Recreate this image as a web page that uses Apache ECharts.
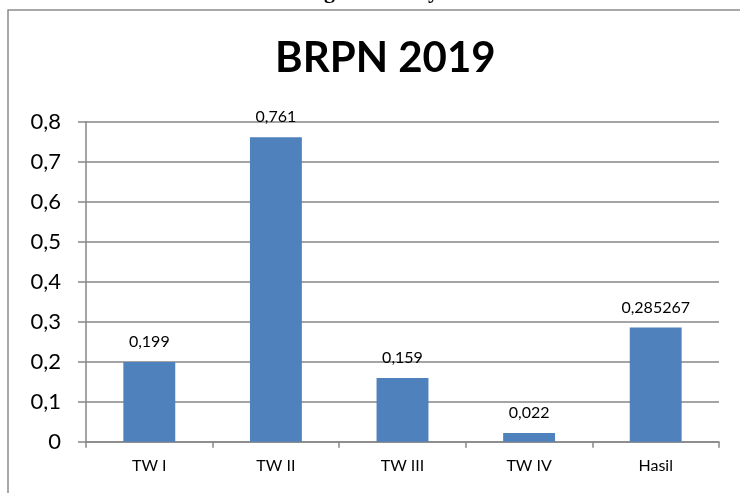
<!DOCTYPE html>
<html>
<head>
<meta charset="utf-8">
<script src="https://cdn.jsdelivr.net/npm/echarts@6/dist/echarts.min.js"></script>
<style>
  html, body { margin: 0; padding: 0; background: #fff; }
  #main { width: 740px; height: 493px; }
</style>
</head>
<body>
<div id="main"></div>
<script>
var categories = ['TW I', 'TW II', 'TW III', 'TW IV', 'Hasil'];
var values = [0.199, 0.761, 0.159, 0.022, 0.285267];
var yTicks = [0, 0.1, 0.2, 0.3, 0.4, 0.5, 0.6, 0.7, 0.8];

(function () {
  var myChart = echarts.init(document.getElementById('main'));

  function comma(v) {
    return String(v).replace('.', ',');
  }

  var option = {
    animation: false,
    title: {
      text: 'BRPN 2019',
      left: 270,
      top: 32,
      textStyle: {
        fontFamily: 'Lato',
        fontWeight: 'bold',
        fontSize: 42,
        color: '#000'
      }
    },
    graphic: [
      {
        type: 'rect',
        shape: { x: 8, y: 10, width: 800, height: 600 },
        style: { fill: 'none', stroke: '#8c8c8c', lineWidth: 1.5 }
      },
      // descenders of the line of text above the chart (clipped by the page)
      {
        type: 'text',
        left: 324,
        top: -19,
        style: { text: 'g', font: 'bold 22px "Liberation Serif"', fill: '#000' }
      },
      {
        type: 'text',
        left: 428,
        top: -19,
        style: { text: 'y', font: 'bold 22px "Liberation Serif"', fill: '#000' }
      }
    ],
    grid: {
      left: 86,
      right: 21,
      top: 121.7,
      bottom: 51.3
    },
    xAxis: {
      type: 'category',
      data: categories,
      axisLine: { lineStyle: { color: '#868686', width: 1.5 } },
      axisTick: { show: true, length: 6, lineStyle: { color: '#868686', width: 1.5 } },
      axisLabel: {
        margin: 16,
        fontFamily: 'Lato',
        fontSize: 16,
        color: '#000'
      }
    },
    yAxis: {
      type: 'value',
      min: yTicks[0],
      max: yTicks[yTicks.length - 1],
      interval: 0.1,
      axisLine: { show: true, lineStyle: { color: '#868686', width: 1.5 } },
      axisTick: { show: true, length: 8, lineStyle: { color: '#868686', width: 1.5 } },
      splitLine: { lineStyle: { color: '#868686', width: 1.5 } },
      axisLabel: {
        margin: 25,
        fontFamily: 'Lato',
        fontSize: 22,
        color: '#000',
        formatter: function (v) {
          return v === 0 ? '0' : comma(v.toFixed(1));
        }
      }
    },
    series: [
      {
        type: 'bar',
        data: values,
        barWidth: '41%',
        itemStyle: { color: '#4F81BD' },
        label: {
          show: true,
          position: 'top',
          distance: 12,
          fontFamily: 'Lato',
          fontSize: 16,
          color: '#000',
          formatter: function (p) {
            return comma(p.value);
          }
        }
      }
    ]
  };
  myChart.setOption(option);
})();
</script>
</body>
</html>
